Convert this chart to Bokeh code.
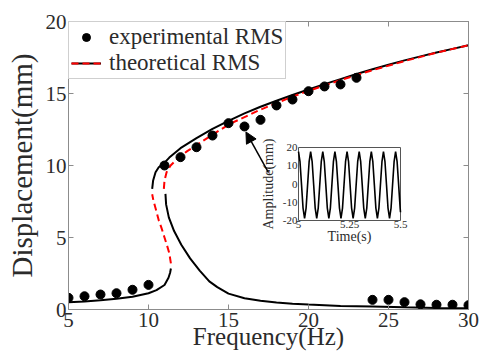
import math
from bokeh.plotting import figure
from bokeh.models import (Range1d, LinearAxis, Legend, LegendItem, Arrow,
                          NormalHead, FixedTicker)
from bokeh.core.properties import value
from bokeh.embed import file_html
from bokeh.resources import INLINE

# ---------------- data ----------------
x_ticks = [5, 10, 15, 20, 25, 30]
y_ticks = [0, 5, 10, 15, 20]

exp_freq = [5, 6, 7, 8, 9, 10,
            11, 12, 13, 14, 15, 16, 17, 18, 19, 20, 21, 22, 23,
            24, 25, 26, 27, 28, 29, 30]
exp_disp = [0.81, 0.92, 1.04, 1.13, 1.37, 1.71,
            10.0, 10.58, 11.27, 12.08, 12.94, 12.71, 13.17, 14.17, 14.58, 15.16, 15.49, 15.63, 16.09,
            0.67, 0.67, 0.51, 0.36, 0.33, 0.33, 0.30]

# theoretical, black solid branches
low_freq = [5, 6, 7, 8, 9, 10, 10.5, 11.0, 11.25, 11.35, 11.4]
low_disp = [0.5, 0.56, 0.64, 0.74, 0.88, 1.13, 1.35, 1.7, 2.2, 2.55, 2.85]

up_freq = [10.23, 10.29, 10.44, 10.64, 10.96, 11.3, 12.0, 13.0, 14.0, 15.0, 16.0, 17.0,
           18.0, 19.0, 20.0, 21.0, 22.0, 23.0, 24.0, 25.0, 26.0, 27.0, 28.0, 29.0, 30.0]
up_disp = [8.38, 8.96, 9.53, 9.88, 10.15, 10.55, 11.2, 11.9, 12.55, 13.1, 13.62, 14.08,
           14.5, 14.9, 15.28, 15.65, 16.0, 16.35, 16.68, 17.0, 17.3, 17.58, 17.85, 18.1, 18.35]

desc_freq = [11.06, 11.1, 11.27, 11.6, 12.05, 12.6, 13.2, 13.8, 14.3, 15.0, 16.0, 17.0,
             18.0, 19.0, 20.0, 22.0, 24.0, 26.0, 28.0, 30.0]
desc_disp = [8.03, 7.3, 6.4, 5.45, 4.5, 3.55, 2.7, 1.95, 1.55, 1.1, 0.78, 0.6,
             0.48, 0.4, 0.34, 0.25, 0.2, 0.15, 0.11, 0.08]

# theoretical, red dashed branches
mid_freq = [11.4, 11.3, 11.17, 11.0, 10.8, 10.64, 10.45, 10.3, 10.23]
mid_disp = [3.2, 3.9, 4.4, 5.0, 5.7, 6.2, 7.0, 7.6, 8.0]

red_up_freq = [10.96, 11.0, 11.13, 11.38, 11.79, 12.42, 13.25, 14.08, 15.1, 16.17, 17.0,
               18.0, 19.0, 20.0, 21.0, 22.0, 24.0, 26.0, 28.0, 30.0]
red_up_disp = [8.38, 8.96, 9.53, 10.0, 10.46, 11.0, 11.6, 12.2, 12.9, 13.45, 13.88,
               14.33, 14.78, 15.18, 15.56, 15.93, 16.62, 17.25, 17.83, 18.35]

# inset time history
ins_x_ticks = [5, 5.25, 5.5]
ins_x_labels = ["5", "5.25", "5.5"]
ins_y_ticks = [20, 10, 0, -10, -20]
ins_y_labels = ["20", "10", "0", "-10", "-20"]
ins_time = [5.0000, 5.0074, 5.0149, 5.0223, 5.0298, 5.0372, 5.0446, 5.0521,
            5.0595, 5.0669, 5.0744, 5.0818, 5.0893, 5.0967, 5.1041, 5.1116,
            5.1190, 5.1264, 5.1339, 5.1413, 5.1488, 5.1562, 5.1636, 5.1711,
            5.1785, 5.1859, 5.1934, 5.2008, 5.2083, 5.2157, 5.2231, 5.2306,
            5.2380, 5.2454, 5.2529, 5.2603, 5.2678, 5.2752, 5.2826, 5.2901,
            5.2975, 5.3049, 5.3124, 5.3198, 5.3273, 5.3347, 5.3421, 5.3496,
            5.3570, 5.3644, 5.3719, 5.3793, 5.3868, 5.3942, 5.4016, 5.4091,
            5.4165, 5.4239, 5.4314, 5.4388, 5.4463, 5.4537, 5.4611, 5.4686,
            5.4760, 5.4834, 5.4909, 5.4983, 5.5000]
ins_amp = [17.8, 12.2, -0.5, -13.2, -18.8, -13.2, -0.5, 12.2,
           17.8, 12.2, -0.5, -13.2, -18.8, -13.2, -0.5, 12.2,
           17.8, 12.2, -0.5, -13.2, -18.8, -13.2, -0.5, 12.2,
           17.8, 12.2, -0.5, -13.2, -18.8, -13.2, -0.5, 12.2,
           17.8, 12.2, -0.5, -13.2, -18.8, -13.2, -0.5, 12.2,
           17.8, 12.2, -0.5, -13.2, -18.8, -13.2, -0.5, 12.2,
           17.8, 12.2, -0.5, -13.2, -18.8, -13.2, -0.5, 12.2,
           17.8, 12.2, -0.5, -13.2, -18.8, -13.2, -0.5, 12.2,
           17.8, 12.2, -0.5, -13.2, -15.5]

# ---------------- styling ----------------
FONT = "Liberation Serif"
TXT = "#2b2b2b"
AX = "#8c8c8c"

p = figure(width=481, height=356, output_backend="svg", toolbar_location=None,
           x_range=Range1d(5, 30), y_range=Range1d(0, 20),
           min_border_left=68, min_border_right=13, min_border_top=21,
           min_border_bottom=47,
           x_axis_label="Frequency(Hz)", y_axis_label="Displacement(mm)")
p.grid.visible = False
p.outline_line_color = AX
p.outline_line_width = 1
p.background_fill_color = "white"
p.border_fill_color = "white"

for ax in (p.xaxis[0], p.yaxis[0]):
    ax.axis_line_color = AX
    ax.major_tick_line_color = AX
    ax.major_tick_in = 5
    ax.major_tick_out = 0
    ax.minor_tick_line_color = None
    ax.major_label_text_font = FONT
    ax.major_label_text_font_size = "21px"
    ax.major_label_text_color = TXT
    ax.axis_label_text_font = FONT
    ax.axis_label_text_font_style = "normal"
    ax.axis_label_text_color = TXT

p.xaxis[0].ticker = FixedTicker(ticks=x_ticks)
p.yaxis[0].ticker = FixedTicker(ticks=y_ticks)
p.xaxis[0].major_label_standoff = 3
p.yaxis[0].major_label_standoff = 2
p.xaxis[0].axis_label_text_font_size = "25px"
p.yaxis[0].axis_label_text_font_size = "29px"
p.xaxis[0].axis_label_standoff = -7
p.yaxis[0].axis_label_standoff = 5

# mirrored tick-only axes (box with ticks, like the original)
for side, ticks in (("above", x_ticks), ("right", y_ticks)):
    a = LinearAxis(ticker=FixedTicker(ticks=ticks),
                   major_label_overrides={t: "" for t in ticks},
                   major_label_text_font_size="1px", major_label_standoff=0,
                   axis_line_color=AX, major_tick_line_color=AX,
                   major_tick_in=5, major_tick_out=0, minor_tick_line_color=None)
    p.add_layout(a, side)

# ---------------- glyphs ----------------
r_low = p.line(low_freq, low_disp, line_color="black", line_width=2)
r_up = p.line(up_freq, up_disp, line_color="black", line_width=2)
r_desc = p.line(desc_freq, desc_disp, line_color="black", line_width=2)
r_mid = p.line(mid_freq, mid_disp, line_color="red", line_width=2, line_dash="7 4")
r_rup = p.line(red_up_freq, red_up_disp, line_color="red", line_width=2, line_dash="7 4")
r_exp = p.scatter(exp_freq, exp_disp, size=9, marker="circle",
                  fill_color="black", line_color="black")

# arrow to the inset
arrow_tail = (17.5, 9.5)
arrow_tip = (16.09, 12.33)
p.add_layout(Arrow(end=NormalHead(size=11, fill_color="black", line_color="black"),
                   x_start=arrow_tail[0], y_start=arrow_tail[1],
                   x_end=arrow_tip[0], y_end=arrow_tip[1],
                   line_color="black", line_width=1.5))

# ---------------- inset ----------------
sub = p.subplot(x_source=Range1d(min(ins_x_ticks), max(ins_x_ticks)),
                y_source=Range1d(min(ins_y_ticks), max(ins_y_ticks)),
                x_target=Range1d(19.375, 25.75), y_target=Range1d(6.18, 11.25))
sub.quad(left=[min(ins_x_ticks)], right=[max(ins_x_ticks)],
         bottom=[min(ins_y_ticks)], top=[max(ins_y_ticks)],
         fill_color="white", line_color="#555555", line_width=1)
sub.line(ins_time, ins_amp, line_color="black", line_width=1.6)
sub.text(x=[min(ins_x_ticks)] * len(ins_y_ticks), y=ins_y_ticks, text=ins_y_labels,
         text_font=value(FONT), text_font_size=value("11px"), text_color=TXT,
         text_align="right", text_baseline="middle", x_offset=-1)
sub.text(x=ins_x_ticks, y=[min(ins_y_ticks)] * len(ins_x_ticks), text=ins_x_labels,
         text_font=value(FONT), text_font_size=value("11px"), text_color=TXT,
         text_align="center", text_baseline="top", y_offset=0)
sub.text(x=[sum(ins_x_ticks) / len(ins_x_ticks)], y=[min(ins_y_ticks)], text=["Time(s)"],
         text_font=value(FONT), text_font_size=value("14px"), text_color=TXT,
         text_align="center", text_baseline="top", y_offset=8)
sub.text(x=[min(ins_x_ticks)], y=[0], text=["Amplitude(mm)"], angle=math.pi / 2,
         text_font=value(FONT), text_font_size=value("14px"), text_color=TXT,
         text_align="center", text_baseline="middle", y_offset=0, x_offset=-30)

# ---------------- legend ----------------
legend = Legend(items=[LegendItem(label="experimental RMS", renderers=[r_exp]),
                       LegendItem(label="theoretical RMS", renderers=[r_up, r_mid])],
                location="top_left", margin=0, padding=2, spacing=0,
                glyph_width=30, glyph_height=20, label_height=20, label_standoff=8,
                label_text_font=FONT, label_text_font_size="23px",
                label_text_color=TXT, border_line_color="#a0a0a0",
                border_line_width=1, background_fill_color="white",
                background_fill_alpha=1)
p.add_layout(legend)

open("out.html", "w").write(file_html(p, INLINE))
